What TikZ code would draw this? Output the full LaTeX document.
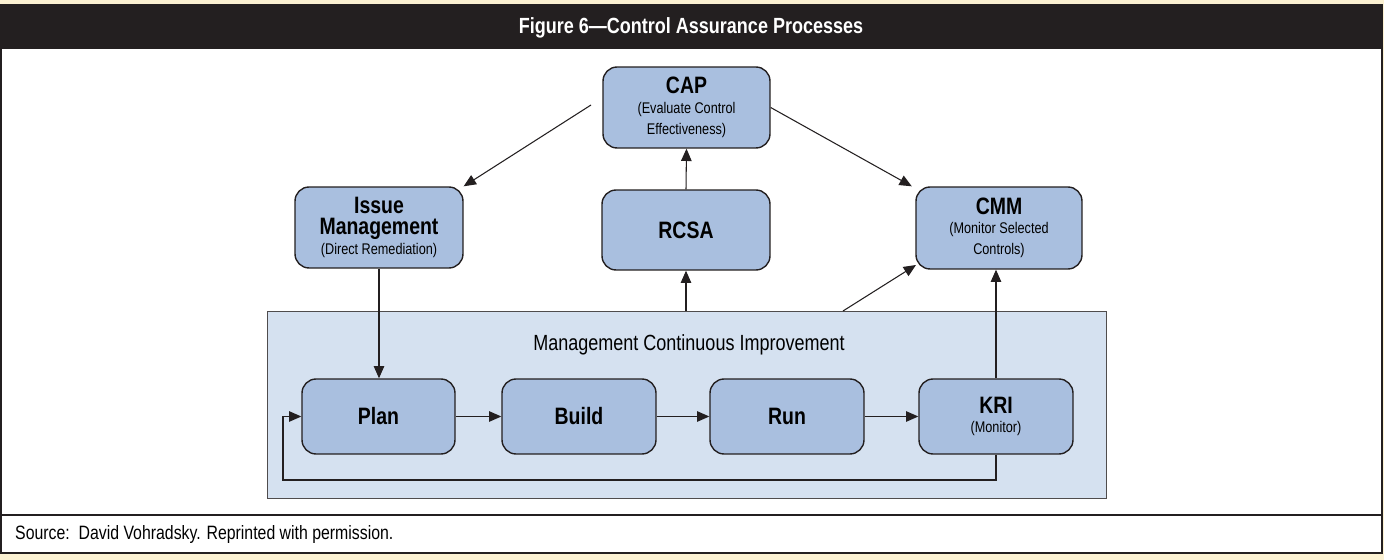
\documentclass[tikz,border=0pt]{standalone}
\usepackage{fontspec}
\setmainfont{Liberation Sans}[FakeStretch=0.82]
\usetikzlibrary{arrows.meta}
\definecolor{nodefill}{HTML}{A9BFDF}
\definecolor{boxfill}{HTML}{D5E1F0}
\definecolor{dark}{HTML}{231F20}
\definecolor{tan}{HTML}{FBF1D2}
\newcommand{\bigf}{\fontsize{13.5}{15}\selectfont\bfseries}
\newcommand{\smallf}{\fontsize{8.8}{10.5}\selectfont\mdseries}
\begin{document}
\begin{tikzpicture}[x=0.02cm,y=-0.02cm,
  proc/.style={draw=dark,line width=0.8pt,fill=nodefill,rounded corners=8pt,align=center,inner sep=0pt},
  arr/.style={draw=dark,line width=0.6pt,-{Triangle[length=7pt,width=6pt]}},
  big/.style={font=\bigf}]
\useasboundingbox (0,0) rectangle (1384,560);
\fill[tan] (0,0) rectangle (1384,560);
\draw[dark,line width=1.6pt,fill=white] (1,5) rectangle (1382,553);
\fill[dark] (0,4) rectangle (1383,49);
\node[text=white,font=\fontsize{12.5}{14}\selectfont\bfseries] (title) at (691,28) {Figure 6---Control Assurance Processes};
\draw[dark,line width=1.6pt] (1,515) -- (1382,515);
\node[anchor=west,font=\fontsize{11}{13}\selectfont] (src) at (9,535) {Source:\ \ David Vohradsky. Reprinted with permission.};
% big box
\node[draw=dark!80,line width=0.6pt,fill=boxfill,minimum width=16.78cm,minimum height=3.74cm,anchor=north west,inner sep=0pt] (mci) at (267,311) {};
\node[font=\fontsize{12.5}{14}\selectfont] (mcit) at (689,345) {Management Continuous Improvement};
% nodes
\node[proc,minimum width=3.34cm,minimum height=1.62cm] (cap) at (686.5,107.5) {\bigf CAP\\[-1pt]\smallf (Evaluate Control\\\smallf Effectiveness)};
\node[proc,minimum width=3.36cm,minimum height=1.62cm] (iss) at (379,227.5) {\bigf Issue\\\bigf Management\\[-1pt]\smallf (Direct Remediation)};
\node[proc,minimum width=3.36cm,minimum height=1.6cm,big] (rcsa) at (686,230) {RCSA};
\node[proc,minimum width=3.32cm,minimum height=1.64cm] (cmm) at (999,228) {\bigf CMM\\[-1pt]\smallf (Monitor Selected\\\smallf Controls)};
\node[proc,minimum width=3.06cm,minimum height=1.5cm,big] (plan) at (378.5,416.5) {Plan};
\node[proc,minimum width=3.08cm,minimum height=1.5cm,big] (build) at (579,416.5) {Build};
\node[proc,minimum width=3.08cm,minimum height=1.5cm,big] (run) at (787,416.5) {Run};
\node[proc,minimum width=3.08cm,minimum height=1.5cm] (kri) at (996,416.5) {\bigf KRI\\[-1pt]\smallf (Monitor)};
% connectors
\coordinate (c1) at (591,105);
\draw[arr] (c1) -- (iss.north east);
\draw[arr] (cap.east) -- ([xshift=-2pt]cmm.north west);
\draw[arr] (rcsa.north) -- (cap.south);
\draw[arr] (mci.north -| rcsa.south) -- (rcsa.south);
\coordinate (c2) at (843,311);
\coordinate (c3) at (916,265);
\draw[arr] (c2) -- (c3);
\draw[arr] (kri.north) -- (cmm.south -| kri.north);
\draw[arr] (iss.south) -- (plan.north -| iss.south);
\draw[arr] (plan) -- (build);
\draw[arr] (build) -- (run);
\draw[arr] (run) -- (kri);
\coordinate (l1) at (996,480);
\coordinate (l2) at (283,480);
\coordinate (l3) at (283,416.5);
\draw[arr] (kri.south) -- (l1) -- (l2) -- (l3) -- (plan.west);
\end{tikzpicture}
\end{document}
